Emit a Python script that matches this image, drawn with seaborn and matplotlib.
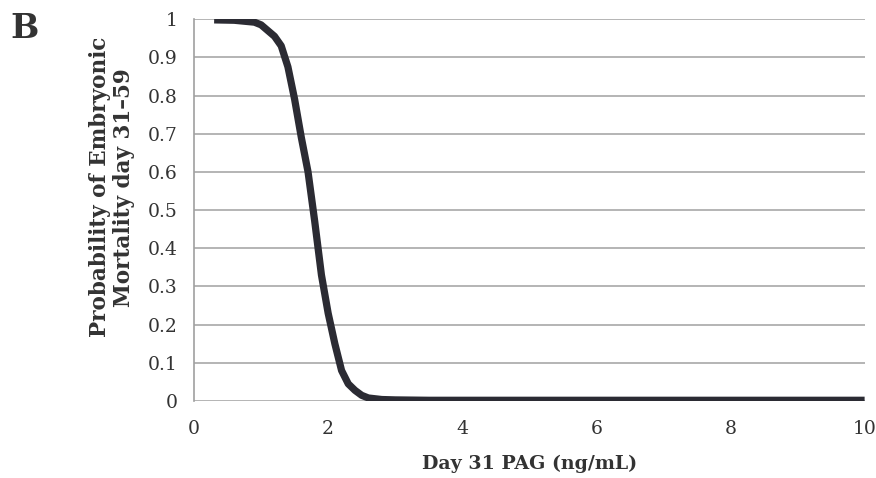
import matplotlib
matplotlib.use("Agg")
import matplotlib.pyplot as plt
import seaborn as sns
import pandas as pd

pag = [0.3, 0.6, 0.9, 1.0, 1.1, 1.2, 1.3, 1.4, 1.5, 1.6, 1.7, 1.8, 1.9, 2.0,
       2.1, 2.2, 2.3, 2.4, 2.5, 2.6, 2.8, 3.0, 3.5, 4.0, 5.0, 6.0, 7.0, 8.0, 9.0, 10.0]
prob = [0.998, 0.997, 0.992, 0.985, 0.97, 0.955, 0.93, 0.875, 0.79, 0.69, 0.60, 0.47,
        0.33, 0.23, 0.15, 0.08, 0.045, 0.028, 0.015, 0.008, 0.004, 0.003, 0.002, 0.002,
        0.002, 0.002, 0.002, 0.002, 0.002, 0.002]
x_ticks = [0, 2, 4, 6, 8, 10]
y_ticks = [0, 0.1, 0.2, 0.3, 0.4, 0.5, 0.6, 0.7, 0.8, 0.9, 1]
y_labels = ["0", "0.1", "0.2", "0.3", "0.4", "0.5", "0.6", "0.7", "0.8", "0.9", "1"]

df = pd.DataFrame({"pag": pag, "prob": prob})

sns.set_style("white")
plt.rcParams["font.family"] = ["DejaVu Serif"]

fig = plt.figure(figsize=(8.76, 4.78), dpi=100)
ax = fig.add_axes([0.2215, 0.161, 0.7655, 0.799])

for v in y_ticks:
    ax.axhline(v, color="#b4b4b4", lw=1.4, zorder=1)

sns.lineplot(data=df, x="pag", y="prob", ax=ax, color="#2b2b33", lw=5.2,
             zorder=3, solid_capstyle="butt")

ax.set_xlim(0, 10)
ax.set_ylim(0, 1)
ax.set_xticks(x_ticks)
ax.set_yticks(y_ticks)
ax.set_yticklabels(y_labels)
for s in ["top", "right", "bottom"]:
    ax.spines[s].set_visible(False)
ax.spines["left"].set_color("#a0a0a0")
ax.spines["left"].set_linewidth(1.2)
ax.tick_params(axis="both", which="both", direction="out", length=5, width=1.2,
               color="#a0a0a0", labelsize=13.5, labelcolor="#333333")
ax.tick_params(axis="y", pad=7)
ax.tick_params(axis="x", pad=9)
ax.grid(False)

ax.set_xlabel("Day 31 PAG (ng/mL)", fontsize=13.7, fontweight="bold", color="#333333",
              labelpad=12)
ax.set_ylabel("Probability of Embryonic\nMortality day 31\u201359", fontsize=15.5,
              fontweight="bold", color="#333333", linespacing=1.1)
ax.yaxis.set_label_coords(-0.088, 0.56)
fig.text(0.012, 0.975, "B", fontsize=24, fontweight="bold", color="#333333",
         va="top", ha="left")

fig.savefig("out.png", dpi=100)
